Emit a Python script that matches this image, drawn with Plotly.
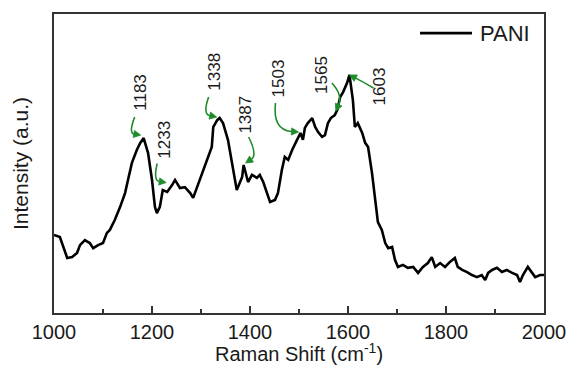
import numpy as np
import plotly.graph_objects as go

# Raman spectrum of PANI
shift = [1000, 1012, 1027, 1037, 1047, 1053, 1063, 1073, 1080, 1090,
         1100, 1108, 1114, 1124, 1135, 1145, 1151, 1159, 1169, 1176,
         1183, 1192, 1200, 1206, 1210, 1216, 1222, 1231, 1241, 1247,
         1257, 1267, 1278, 1284, 1292, 1302, 1312, 1322, 1325, 1333,
         1338, 1345, 1355, 1365, 1373, 1384, 1387, 1396, 1404, 1414,
         1420, 1427, 1435, 1441, 1451, 1457, 1465, 1471, 1478, 1486,
         1496, 1503, 1508, 1512, 1518, 1527, 1533, 1539, 1547, 1553,
         1559, 1565, 1573, 1578, 1584, 1590, 1598, 1603, 1610, 1614,
         1620, 1629, 1635, 1641, 1649, 1655, 1661, 1669, 1676, 1682,
         1690, 1696, 1702, 1712, 1722, 1733, 1743, 1753, 1763, 1771,
         1778, 1788, 1798, 1808, 1818, 1824, 1833, 1843, 1853, 1863,
         1873, 1880, 1886, 1894, 1904, 1914, 1924, 1935, 1945, 1951,
         1957, 1967, 1976, 1982, 1992, 2000]
intensity = [26.1, 25.4, 18.4, 18.7, 20.1, 22.7, 24.4, 23.4, 21.7, 22.7,
             23.4, 26.8, 27.8, 31.1, 35.5, 40.1, 44.5, 50.2, 54.5, 56.9,
             58.5, 53.5, 44.5, 35.5, 33.4, 35.5, 41.1, 40.5, 42.8, 44.5,
             41.8, 42.1, 40.1, 38.5, 42.1, 46.8, 51.2, 55.5, 62.2, 64.5,
             65.2, 63.5, 57.9, 48.8, 41.1, 45.5, 49.5, 43.8, 46.2, 45.2,
             46.2, 43.8, 40.1, 37.1, 37.8, 40.1, 47.8, 52.2, 51.2, 54.5,
             57.9, 60.2, 57.9, 61.9, 63.5, 65.2, 62.2, 60.5, 58.9, 59.5,
             63.5, 65.2, 66.2, 67.9, 72.2, 73.9, 76.9, 79.6, 71.2, 62.2,
             63.5, 60.2, 56.9, 55.5, 46.8, 37.8, 30.4, 27.8, 23.4, 21.7,
             22.1, 17.7, 15.4, 16.1, 15.1, 15.4, 13.4, 15.4, 16.7, 18.7,
             15.4, 16.7, 15.4, 17.1, 18.4, 15.4, 14.4, 13.7, 12.7, 12.0,
             12.7, 11.0, 13.4, 14.4, 15.1, 13.7, 14.4, 13.4, 12.7, 10.4,
             12.7, 15.4, 13.4, 12.0, 12.7, 12.7]

# Assigned band positions (cm-1)
peak_labels = [1183, 1233, 1338, 1387, 1503, 1565, 1603]

# Pixel offsets from each band point: arrow tip, arrow tail, curve control, label centre
tip_off = [(-3, -3), (-2, -8), (-3, -1), (2, -2), (-2, -1), (5, -7), (0, 0)]
start_off = [(-9, -21), (-11, -27), (-11, -21), (5, -28), (-25, -30), (1, -35), (24, 13)]
ctrl_off = [(-15, -5), (-15, -10), (-17, -4), (14, -10), (-28, -3), (12, -23), (12, 6)]
text_off = [(-4, -46), (-4, -51), (-6, -46), (2, -50), (-22, -55), (-10, -43), (30, 11)]

W, H = 573, 365
M = dict(l=54, r=29, t=14, b=52)
X_RANGE = [1000, 2000]
Y_RANGE = [0, 100]
px_x = (W - M["l"] - M["r"]) / (X_RANGE[1] - X_RANGE[0])
px_y = (H - M["t"] - M["b"]) / (Y_RANGE[1] - Y_RANGE[0])

FONT = "Liberation Sans, Arial, sans-serif"
GREEN = "#1e8c2a"
INK = "#1a1a1a"
HEAD_LEN, HEAD_HALF = 7.0, 3.6


def offset(x, y, d):
    return x + d[0] / px_x, y - d[1] / px_y


fig = go.Figure()
fig.add_trace(go.Scatter(x=shift, y=intensity, mode="lines", name="PANI",
                         line=dict(color="black", width=2.6),
                         showlegend=False, hoverinfo="x+y"))

shapes = []
annotations = []
for lab, t, s, c, txt in zip(peak_labels, tip_off, start_off, ctrl_off, text_off):
    px0 = float(lab)
    py0 = float(np.interp(px0, shift, intensity))
    # arrowhead direction follows the end tangent of the curve
    dx, dy = t[0] - c[0], t[1] - c[1]
    n = (dx * dx + dy * dy) ** 0.5
    dx, dy = dx / n, dy / n
    base = (t[0] - dx * HEAD_LEN, t[1] - dy * HEAD_LEN)
    b1 = (base[0] - dy * HEAD_HALF, base[1] + dx * HEAD_HALF)
    b2 = (base[0] + dy * HEAD_HALF, base[1] - dx * HEAD_HALF)

    sx, sy = offset(px0, py0, s)
    cx, cy = offset(px0, py0, c)
    ex, ey = offset(px0, py0, base)
    shapes.append(dict(type="path", xref="x", yref="y",
                       path=f"M {sx},{sy} Q {cx},{cy} {ex},{ey}",
                       line=dict(color=GREEN, width=1.6)))
    hx, hy = offset(px0, py0, t)
    h1x, h1y = offset(px0, py0, b1)
    h2x, h2y = offset(px0, py0, b2)
    shapes.append(dict(type="path", xref="x", yref="y",
                       path=f"M {hx},{hy} L {h1x},{h1y} L {h2x},{h2y} Z",
                       fillcolor=GREEN, line=dict(color=GREEN, width=0.8)))
    annotations.append(dict(x=px0, y=py0, xref="x", yref="y", text=str(lab),
                            showarrow=False, textangle=-90,
                            xshift=txt[0], yshift=-txt[1],
                            font=dict(family=FONT, size=17, color=INK)))

# legend entry
shapes.append(dict(type="line", xref="paper", yref="paper",
                   x0=0.747, x1=0.853, y0=0.936, y1=0.936,
                   line=dict(color="black", width=2.6)))
annotations.append(dict(x=0.866, y=0.936, xref="paper", yref="paper",
                        text="PANI", showarrow=False, xanchor="left",
                        yanchor="middle",
                        font=dict(family=FONT, size=22, color=INK)))

# x-axis title
annotations.append(dict(x=0.5, y=-0.132, xref="paper", yref="paper",
                        text="Raman Shift (cm<sup>-1</sup>)", showarrow=False,
                        xanchor="center", yanchor="middle",
                        font=dict(family=FONT, size=20, color=INK)))

fig.update_layout(
    width=W, height=H, margin=M,
    paper_bgcolor="white", plot_bgcolor="white",
    font=dict(family=FONT, color=INK),
    shapes=shapes, annotations=annotations,
    xaxis=dict(range=X_RANGE, dtick=200, ticks="inside", ticklen=7,
               tickwidth=1.5, tickcolor="#333",
               minor=dict(dtick=100, ticks="inside", ticklen=4,
                          tickwidth=1.5, tickcolor="#333"),
               showline=True, linecolor="#333", linewidth=1.5, mirror=True,
               showgrid=False, zeroline=False, automargin=False,
               tickfont=dict(family=FONT, size=20, color=INK)),
    yaxis=dict(range=Y_RANGE, showticklabels=False, ticks="",
               showline=True, linecolor="#333", linewidth=1.5, mirror=True,
               showgrid=False, zeroline=False, automargin=False,
               title=dict(text="Intensity (a.u.)", standoff=18,
                          font=dict(family=FONT, size=21, color=INK))),
)

fig.write_html("out.html")
